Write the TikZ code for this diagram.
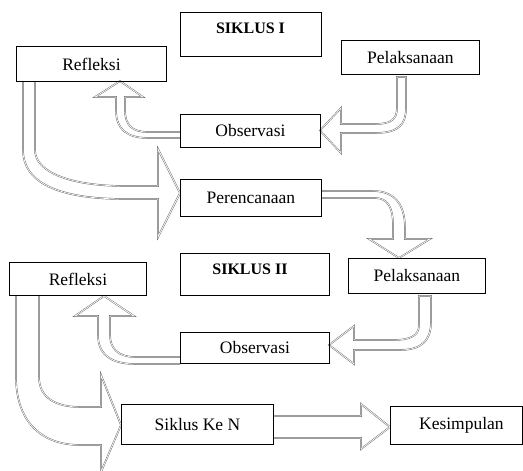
\documentclass[tikz,border=0pt]{standalone}
\usepackage{fontspec}
\setmainfont{Liberation Serif}
\usetikzlibrary{backgrounds}
\tikzset{
  box/.style={draw=black, line width=0.9pt, inner sep=0pt, anchor=north west,
    font=\fontsize{17.5}{20}\selectfont},
  titletext/.style={inner sep=0pt, font=\fontsize{16}{19}\selectfont\bfseries},
  blockarrow/.style={draw=gray!80!black, line width=0.45pt, double=white,
    double distance=0.7pt, fill=white, line join=miter},
}
\begin{document}
\begin{tikzpicture}[x=1pt,y=-1pt]
\useasboundingbox (0,0) rectangle (523,471);
% ---- boxes ----
\node[box, minimum width=141pt, minimum height=44pt] (s1) at (180,12) {};
\node[titletext] (s1t) at (250.5,28) {SIKLUS I};
\node[box, minimum width=150pt, minimum height=35pt] (r1) at (16,46) {Refleksi};
\node[box, minimum width=138pt, minimum height=34pt] (p1) at (341,40) {Pelaksanaan};
\node[box, minimum width=140pt, minimum height=33pt] (o1) at (180,114) {Observasi};
\node[box, minimum width=141pt, minimum height=37pt] (pe) at (180,179) {Perencanaan};
\node[box, minimum width=137pt, minimum height=33pt] (r2) at (9,262) {Refleksi};
\node[box, minimum width=149pt, minimum height=42pt] (s2) at (180,253) {};
\node[titletext] (s2t) at (250,269) {SIKLUS II};
\node[box, minimum width=137pt, minimum height=35pt] (p2) at (348,258) {Pelaksanaan};
\node[box, minimum width=149pt, minimum height=31pt] (o2) at (180,332) {Observasi};
\node[box, minimum width=152pt, minimum height=40pt] (sk) at (121,404) {Siklus Ke N};
\node[box, minimum width=132pt, minimum height=38pt] (ke) at (390,406) {\hspace*{10pt}Kesimpulan};
% ---- block arrows ----
\begin{scope}[on background layer]
% Pelaksanaan I -> Observasi I
\draw[blockarrow] (397,77) -- (397,108) .. controls (397,120) and (390,124) .. (375,124)
  -- (341,124) -- (341,108) -- (320,130.5) -- (341,153) -- (341,133) -- (375,133)
  .. controls (398,133) and (406,125) .. (406,108) -- (406,77) -- cycle;
% Observasi I -> Refleksi I
\draw[blockarrow] (180,132) -- (148,132) .. controls (132,132) and (125,125) .. (125,110)
  -- (125,97) -- (143,97) -- (120,81) -- (95,97) -- (116,97) -- (116,110)
  .. controls (116,130) and (128,138) .. (148,138) -- (180,138);
% Refleksi I -> Perencanaan
\draw[blockarrow] (35,81) -- (35,150) .. controls (35,172) and (70,186) .. (125,186)
  -- (158,186) -- (158,149) -- (180,193) -- (158,237) -- (158,199) -- (125,199)
  .. controls (57,199) and (23,182) .. (23,150) -- (23,81);
% Perencanaan -> Pelaksanaan II
\draw[blockarrow] (321,191) -- (373,191) .. controls (395,191) and (405,205) .. (405,228)
  -- (405,239) -- (430,239) -- (399,258) -- (369,239) -- (393,239) -- (393,225)
  .. controls (393,208) and (388,198) .. (375,198) -- (321,198);
% Pelaksanaan II -> Observasi II
\draw[blockarrow] (419,296) -- (419,325) .. controls (419,336) and (410,340) .. (393,340)
  -- (354,340) -- (354,326) -- (329,345) -- (354,364) -- (354,350) -- (400,350)
  .. controls (422,350) and (431,340) .. (431,322) -- (431,296) -- cycle;
% Observasi II -> Refleksi II
\draw[blockarrow] (180,357) -- (135,357) .. controls (118,357) and (110,348) .. (110,335)
  -- (110,316) -- (134,316) -- (104,296) -- (75,316) -- (98,316) -- (98,335)
  .. controls (98,355) and (112,364) .. (135,364) -- (180,364);
% Refleksi II -> Siklus Ke N
\draw[blockarrow] (39,295) -- (39,377) .. controls (39,397) and (55,407) .. (80,407)
  -- (101,407) -- (101,375) -- (121,425) -- (101,472) -- (101,445) -- (80,445)
  .. controls (40,445) and (16,420) .. (16,377) -- (16,295);
% Siklus Ke N -> Kesimpulan
\draw[blockarrow] (273,416) -- (361,416) -- (361,404) -- (390,427) -- (361,449)
  -- (361,438) -- (273,438);
\end{scope}
\end{tikzpicture}
\end{document}
